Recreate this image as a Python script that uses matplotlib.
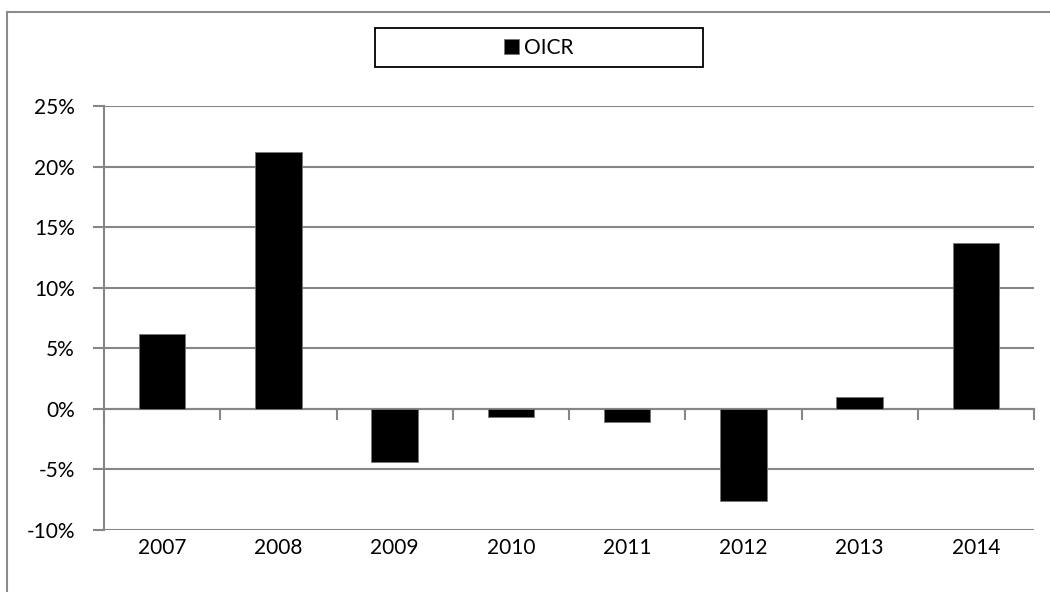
import numpy as np
import matplotlib.pyplot as plt
from matplotlib.lines import Line2D
from matplotlib.patches import Rectangle
from matplotlib.ticker import FuncFormatter

plt.rcParams['font.family'] = ['Lato', 'DejaVu Sans']

years = ['2007', '2008', '2009', '2010', '2011', '2012', '2013', '2014']
oicr = [6.2, 21.2, -4.4, -0.65, -1.05, -7.6, 1.0, 13.7]  # percent
y_ticks = [-10, -5, 0, 5, 10, 15, 20, 25]

grid_col = '#868686'

fig = plt.figure(figsize=(10.5, 5.92), dpi=100)
ax = fig.add_axes([104 / 1050, 1 - 530 / 592, 930 / 1050, 424 / 592])

x = np.arange(len(years))
ax.bar(x, oicr, width=0.4, color='black', edgecolor='#777777', linewidth=0.6,
       label='OICR', zorder=3)

ax.set_xlim(-0.5, len(years) - 0.5)
ax.set_ylim(-10, 25)
ax.set_yticks(y_ticks)
ax.yaxis.set_major_formatter(FuncFormatter(lambda v, p: f"{v:.0f}%"))
ax.grid(axis='y', color=grid_col, linewidth=1.5, zorder=0)

ax.set_xticks(x)
ax.set_xticklabels(years)
ax.tick_params(axis='x', length=0, pad=6, labelsize=15)
ax.tick_params(axis='y', length=8, width=1.5, color=grid_col, pad=13, labelsize=15)

for s in ['top', 'right', 'bottom']:
    ax.spines[s].set_visible(False)
ax.spines['left'].set_color(grid_col)
ax.spines['left'].set_linewidth(1.5)

# category axis sits on the 0% line with tick marks between categories
sec = ax.secondary_xaxis(0, transform=ax.transData)
sec.set_xticks(np.arange(len(years) + 1) - 0.5)
sec.set_xticklabels([])
sec.tick_params(axis='x', length=8, width=1.5, color=grid_col, direction='out')
sec.spines['bottom'].set_color(grid_col)
sec.spines['bottom'].set_linewidth(1.5)

# legend with its own frame
fig.legend(loc='center', bbox_to_anchor=(539 / 1050, 1 - 47.5 / 592), frameon=False,
           fontsize=15, handlelength=0.7, handleheight=0.7, handletextpad=0.25)
fig.add_artist(Rectangle((375 / 1050, 1 - 67 / 592), 328 / 1050, 39 / 592,
                         transform=fig.transFigure, fill=False, edgecolor='black',
                         linewidth=1.3))

# outer chart border (left and top visible)
fig.add_artist(Line2D([7 / 1050, 7 / 1050], [0, 1 - 12 / 592], transform=fig.transFigure,
                      color='#8c8c8c', linewidth=1.5))
fig.add_artist(Line2D([7 / 1050, 1], [1 - 12 / 592, 1 - 12 / 592], transform=fig.transFigure,
                      color='#8c8c8c', linewidth=1.5))

fig.savefig('out.png', dpi=100)
plt.close(fig)
